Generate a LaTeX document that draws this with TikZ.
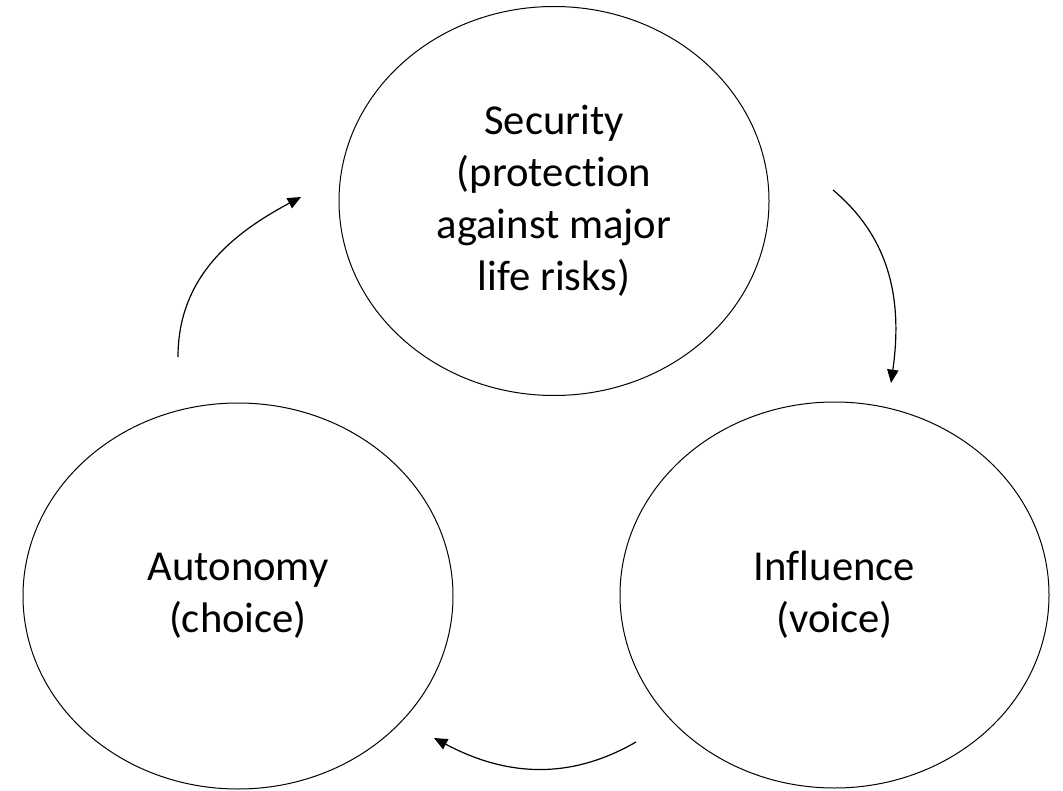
\documentclass[tikz,border=0pt]{standalone}
\usepackage{fontspec}
\setmainfont{Carlito}[Ligatures={NoCommon}]
\usetikzlibrary{arrows.meta,shapes.geometric}
\begin{document}
\begin{tikzpicture}[x=0.75pt,y=0.75pt,
  bubble/.style={ellipse, draw=black, line width=0.75pt, inner sep=0pt, align=center,
    font=\fontsize{32}{39}\selectfont, text=black},
  cyc/.style={-{Triangle[length=10pt,width=8.5pt]}, line width=0.9pt}]
\useasboundingbox (0,0) rectangle (1063,790);
\node[bubble, minimum width=322.5pt, minimum height=291.75pt] (sec) at (554,589)
  {Security\\(protection\\against major\\life risks)};
\node[bubble, minimum width=322.5pt, minimum height=289.5pt] (aut) at (238,194)
  {Autonomy\\(choice)};
\node[bubble, minimum width=321.75pt, minimum height=289.5pt] (inf) at (834.5,195)
  {Influence\\(voice)};
\coordinate (a1s) at (178,433);
\coordinate (a1e) at (301,593);
\coordinate (a2s) at (833,600);
\coordinate (a2e) at (891,407);
\coordinate (a3s) at (636,48);
\coordinate (a3e) at (434,52);
\draw[cyc] (a1s) to[out=90,in=208] (a1e);
\draw[cyc] (a2s) to[out=-40,in=82] (a2e);
\draw[cyc] (a3s) to[out=210,in=332] (a3e);
\end{tikzpicture}
\end{document}
